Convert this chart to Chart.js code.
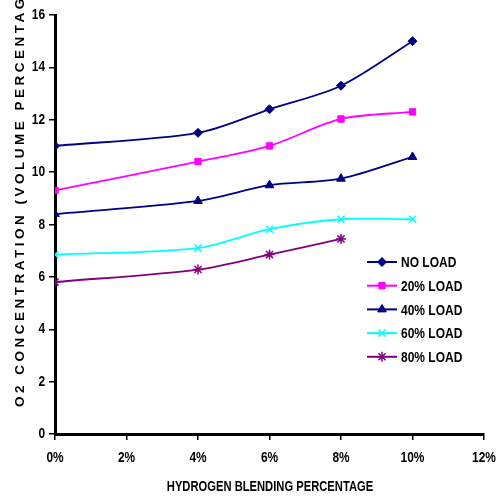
<!DOCTYPE html>
<html>
<head>
<meta charset="utf-8">
<script src="https://cdn.jsdelivr.net/npm/chart.js@4/dist/chart.umd.min.js"></script>
<style>
html,body{margin:0;padding:0;background:#fff;}
#wrap{width:497px;height:498px;position:relative;}
</style>
</head>
<body>
<div id="wrap"><canvas id="c" width="497" height="498"></canvas></div>
<script>
// ---- data ----
const hydrogenPct = [0, 4, 6, 8, 10];
const noLoad   = [11.0, 11.5, 12.4, 13.3, 15.0];
const load20   = [9.3, 10.4, 11.0, 12.03, 12.3];
const load40   = [8.4, 8.9, 9.5, 9.75, 10.58];
const load60   = [6.85, 7.1, 7.82, 8.2, 8.2];
const load80   = [5.8, 6.28, 6.85, 7.45];
const seriesNames = ['NO LOAD', '20% LOAD', '40% LOAD', '60% LOAD', '80% LOAD'];
const xTicks = [0, 2, 4, 6, 8, 10, 12];
const yTicks = [0, 2, 4, 6, 8, 10, 12, 14, 16];
const xTitle = 'HYDROGEN BLENDING PERCENTAGE';
const yTitle = 'O2 CONCENTRATION (VOLUME PERCENTAGE)';

const seriesValues = [noLoad, load20, load40, load60, load80];
const colors = ['#000080', '#FF00FF', '#000080', '#00FFFF', '#800080'];
const styles = ['rectRot', 'rect', 'triangle', 'crossRot', 'star'];
const radii = [4.5, 4.5, 5, 5, 5];

const wide = '"Liberation Sans", Arial, sans-serif';

const datasets = seriesValues.map((vals, i) => ({
  label: seriesNames[i],
  data: vals.map((v, j) => ({x: hydrogenPct[j], y: v})),
  borderColor: colors[i],
  backgroundColor: colors[i],
  pointStyle: styles[i],
  pointRadius: radii[i],
  pointBorderWidth: (styles[i] === 'crossRot' || styles[i] === 'star') ? 1.5 : 1,
  borderWidth: 1.8,
  tension: 0.3,
  fill: false
}));

function squeezedText(ctx, text, x, y, align, sq) {
  ctx.save();
  ctx.translate(x, y);
  ctx.scale(sq, 1);
  ctx.textAlign = align;
  ctx.textBaseline = 'middle';
  ctx.fillText(text, 0, 0);
  ctx.restore();
}

const overlay = {
  id: 'overlay',
  afterDraw(chart) {
    const ctx = chart.ctx;
    ctx.save();
    // y title
    ctx.fillStyle = '#000';
    ctx.font = 'bold 13.5px ' + wide;
    try { ctx.letterSpacing = '3.5px'; } catch (e) {}
    ctx.translate(20, 407);
    ctx.rotate(-Math.PI / 2);
    ctx.textAlign = 'left';
    ctx.textBaseline = 'middle';
    ctx.fillText(yTitle, 0, 0);
    ctx.restore();

    ctx.save();
    try { ctx.letterSpacing = '0px'; } catch (e) {}
    ctx.fillStyle = '#000';
    ctx.font = 'bold 14.5px ' + wide;

    // tick labels
    const xs = chart.scales.x, ys = chart.scales.y;
    xs.ticks.forEach(t => {
      squeezedText(ctx, t.value + '%', xs.getPixelForValue(t.value), 458, 'center', 0.82);
    });
    ys.ticks.forEach(t => {
      squeezedText(ctx, String(t.value), 45, ys.getPixelForValue(t.value), 'right', 0.82);
    });

    // x title
    ctx.font = 'bold 14px ' + wide;
    squeezedText(ctx, xTitle, 270, 487, 'center', 0.8);

    // legend
    const lx0 = 367, lx1 = 397, tx = 401, y0 = 262, dy = 23.7;
    chart.data.datasets.forEach((ds, i) => {
      const y = y0 + i * dy;
      ctx.strokeStyle = ds.borderColor;
      ctx.lineWidth = 2;
      ctx.beginPath();
      ctx.moveTo(lx0, y);
      ctx.lineTo(lx1, y);
      ctx.stroke();
      ctx.fillStyle = ds.backgroundColor;
      ctx.lineWidth = ds.pointBorderWidth;
      Chart.helpers.drawPoint(ctx, {pointStyle: ds.pointStyle, rotation: 0, radius: ds.pointRadius, borderWidth: ds.pointBorderWidth}, (lx0 + lx1) / 2, y);
      ctx.fillStyle = '#000';
      ctx.font = 'bold 15px ' + wide;
      squeezedText(ctx, ds.label, tx, y + 1, 'left', 0.8);
    });
    ctx.restore();
  }
};

new Chart(document.getElementById('c'), {
  type: 'line',
  data: { datasets },
  options: {
    responsive: false,
    animation: false,
    layout: { padding: { left: 0, right: 13, top: 15, bottom: 0 } },
    plugins: { legend: { display: false }, tooltip: { enabled: false } },
    scales: {
      x: {
        type: 'linear',
        min: 0, max: 12,
        afterBuildTicks(s) { s.ticks = xTicks.map(v => ({value: v})); },
        afterFit(s) { s.height = 64; },
        ticks: { display: false },
        grid: { drawOnChartArea: false, color: '#000', tickLength: 6, lineWidth: 1.5 },
        border: { color: '#000', width: 3 }
      },
      y: {
        min: 0, max: 16,
        afterBuildTicks(s) { s.ticks = yTicks.map(v => ({value: v})); },
        afterFit(s) { s.width = 55; },
        ticks: { display: false },
        grid: { drawOnChartArea: false, color: '#000', tickLength: 6, lineWidth: 1.5 },
        border: { color: '#000', width: 3 }
      }
    }
  },
  plugins: [overlay]
});
</script>
</body>
</html>
